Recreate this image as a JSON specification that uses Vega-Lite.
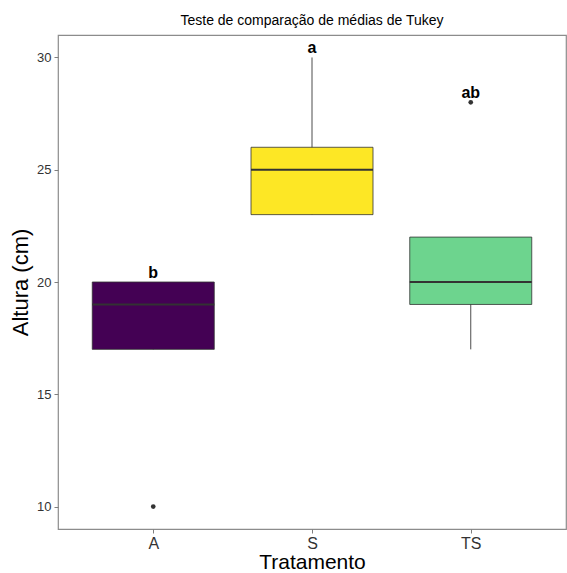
{
  "$schema": "https://vega.github.io/schema/vega-lite/v6.json",
  "autosize": {"type": "none"},
  "width": 508,
  "height": 494,
  "padding": {"left": 58, "top": 35, "right": 1, "bottom": 44},
  "background": "white",
  "config": {
    "font": "Liberation Sans",
    "view": {"stroke": "#8c8c8c", "strokeWidth": 1.2},
    "axis": {"grid": false, "domain": false, "tickColor": "#7f7f7f", "tickSize": 4, "labelColor": "#333333", "titleColor": "#000000", "titleFontWeight": "normal"}
  },
  "title": {"text": "Teste de comparação de médias de Tukey", "fontSize": 14, "fontWeight": "normal", "color": "#000000", "offset": 7, "anchor": "middle"},
  "datasets": {
    "boxes": [
      {"Tratamento": "A", "lo": 17, "q1": 17, "med": 19, "q3": 20, "hi": 20},
      {"Tratamento": "S", "lo": 23, "q1": 23, "med": 25, "q3": 26, "hi": 30},
      {"Tratamento": "TS", "lo": 17, "q1": 19, "med": 20, "q3": 22, "hi": 22}
    ],
    "outliers": [
      {"Tratamento": "A", "Altura": 10},
      {"Tratamento": "TS", "Altura": 28}
    ],
    "letters": [
      {"Tratamento": "A", "pos": 20, "letra": "b"},
      {"Tratamento": "S", "pos": 30, "letra": "a"},
      {"Tratamento": "TS", "pos": 28, "letra": "ab"}
    ]
  },
  "encoding": {
    "x": {
      "field": "Tratamento", "type": "nominal",
      "scale": {"type": "point", "padding": 0.6, "domain": ["A", "S", "TS"]},
      "axis": {"title": "Tratamento", "labelAngle": 0, "labelFontSize": 16, "labelPadding": 2, "titleFontSize": 21, "titlePadding": 0}
    }
  },
  "layer": [
    {
      "data": {"name": "boxes"},
      "mark": {"type": "rule", "color": "#4d4d4d", "strokeWidth": 1},
      "encoding": {
        "y": {"field": "lo", "type": "quantitative", "scale": {"domain": [9, 31], "nice": false, "zero": false},
          "axis": {"title": "Altura (cm)", "values": [10, 15, 20, 25, 30], "labelFontSize": 13, "labelPadding": 3, "titleFontSize": 22, "titlePadding": 4}},
        "y2": {"field": "hi"}
      }
    },
    {
      "data": {"name": "boxes"},
      "mark": {"type": "bar", "size": 122, "stroke": "#333333", "strokeWidth": 0.8},
      "encoding": {
        "y": {"field": "q1", "type": "quantitative"},
        "y2": {"field": "q3"},
        "fill": {"field": "Tratamento", "type": "nominal", "scale": {"domain": ["A", "S", "TS"], "range": ["#440154", "#FDE725", "#6DD48E"]}, "legend": null}
      }
    },
    {
      "data": {"name": "boxes"},
      "mark": {"type": "tick", "size": 122, "thickness": 2, "color": "#333333", "orient": "horizontal", "opacity": 1},
      "encoding": {
        "y": {"field": "med", "type": "quantitative"}
      }
    },
    {
      "data": {"name": "outliers"},
      "mark": {"type": "point", "filled": true, "size": 22, "color": "#333333", "opacity": 1},
      "encoding": {
        "y": {"field": "Altura", "type": "quantitative"}
      }
    },
    {
      "data": {"name": "letters"},
      "mark": {"type": "text", "fontSize": 16, "fontWeight": "bold", "color": "#000000", "baseline": "alphabetic", "dy": -4},
      "encoding": {
        "y": {"field": "pos", "type": "quantitative"},
        "text": {"field": "letra"}
      }
    }
  ]
}
